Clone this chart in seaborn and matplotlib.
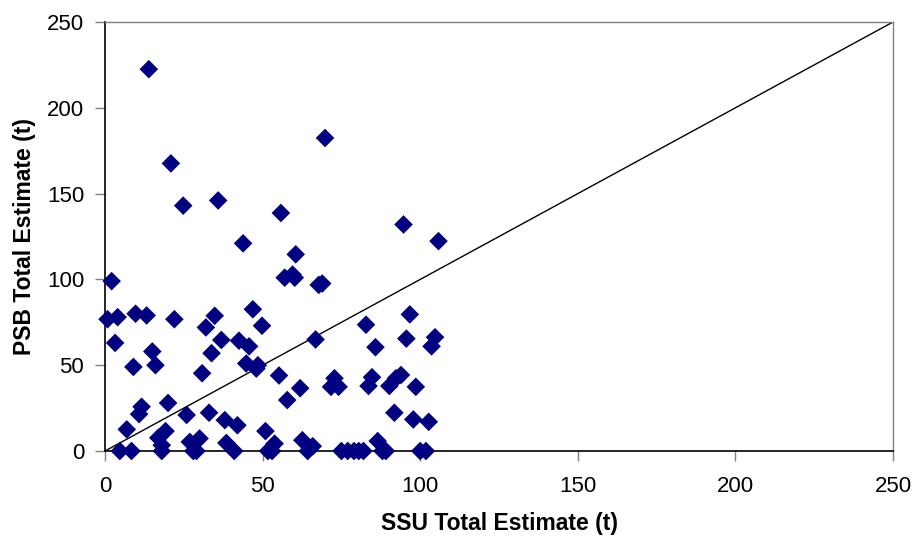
import matplotlib
matplotlib.use("Agg")
import matplotlib.pyplot as plt
import seaborn as sns
import pandas as pd

# SSU vs PSB total estimates
ssu = [13.9, 20.9, 24.8, 35.9, 55.8, 43.8, 60.5, 69.8, 94.7, 105.8,
       57.0, 59.5, 60.2, 67.8, 68.9,
       2.1, 0.8, 4.0, 9.7, 13.2, 22.0, 3.2, 15.0, 16.0, 9.0,
       32.0, 34.8, 36.9, 33.8, 30.8, 42.5, 45.7, 46.9, 49.8, 44.8,
       48.5, 48.0, 55.2, 57.8, 66.8, 82.8, 96.7, 85.8, 95.6, 104.7,
       103.6, 61.9, 72.8, 71.7, 74.1, 84.7, 83.6, 90.2, 92.3, 93.9, 98.6,
       11.6, 10.8, 20.0, 6.9, 25.9, 33.0, 38.0, 42.0, 19.2, 16.9,
       18.0, 50.9, 26.9, 30.0, 38.5, 53.8, 62.6, 65.9, 86.5, 91.8,
       97.8, 102.7,
       4.7, 8.4, 18.0, 28.0, 29.0, 41.0, 51.7, 53.0, 64.3, 75.0,
       77.0, 79.0, 80.5, 82.0, 88.0, 89.1, 100.0, 101.8]
psb = [222.5, 167.6, 143.0, 146.0, 138.7, 121.0, 114.6, 182.4, 132.0, 122.3,
       101.0, 102.8, 101.0, 96.8, 97.6,
       99.0, 76.8, 78.0, 80.0, 79.0, 76.8, 63.0, 58.0, 50.0, 49.0,
       72.0, 78.8, 64.7, 57.0, 45.3, 64.3, 61.0, 82.6, 73.0, 51.0,
       50.0, 48.0, 44.0, 29.7, 65.0, 73.6, 79.6, 60.5, 65.5, 66.3,
       61.0, 36.6, 42.4, 37.4, 37.4, 43.0, 37.9, 37.9, 42.4, 44.3, 37.4,
       25.8, 21.5, 28.0, 12.6, 21.0, 22.3, 18.0, 15.0, 11.6, 7.7,
       3.4, 11.6, 5.3, 7.3, 4.7, 4.3, 6.3, 2.8, 5.8, 22.3,
       18.4, 17.0,
       0, 0, 0, 0, 0, 0, 0, 0, 0, 0,
       0, 0, 0, 0, 0, 0, 0, 0]

ticks = [0, 50, 100, 150, 200, 250]
diag = [0, 250]  # 1:1 line

df = pd.DataFrame({"SSU": ssu, "PSB": psb})

sns.set_style("white")
plt.rcParams["font.family"] = ["Liberation Sans", "DejaVu Sans"]
plt.rcParams["text.color"] = "black"
plt.rcParams["axes.labelcolor"] = "black"
plt.rcParams["xtick.labelcolor"] = "black"
plt.rcParams["ytick.labelcolor"] = "black"

fig = plt.figure(figsize=(9.18, 5.43), dpi=100)
ax = fig.add_axes([0.1144, 0.1694, 0.8584, 0.7901])

ax.plot(diag, diag, color="black", lw=1, zorder=1)
sns.scatterplot(data=df, x="SSU", y="PSB", marker="D", s=90,
                color="#000080", edgecolor="none", ax=ax, zorder=3,
                clip_on=False)

ax.set_xlim(0, 250)
ax.set_ylim(0, 250)
ax.set_xticks(ticks)
ax.set_yticks(ticks)
ax.tick_params(axis="both", labelsize=16, direction="out", length=7,
               width=1, color="#808080", labelcolor="black",
               bottom=True, left=True)
ax.tick_params(axis="y", pad=8)
ax.tick_params(axis="x", pad=11)

for side in ["top", "right"]:
    ax.spines[side].set_color("#808080")
    ax.spines[side].set_linewidth(1)
for side in ["left", "bottom"]:
    ax.spines[side].set_color("black")
    ax.spines[side].set_linewidth(1.2)

ax.set_xlabel("SSU Total Estimate (t)", fontsize=16.5, fontweight="bold", color="black")
ax.set_ylabel("PSB Total Estimate (t)", fontsize=16.5, fontweight="bold", color="black")
ax.xaxis.set_label_coords(0.5, -0.143)
ax.yaxis.set_label_coords(-0.088, 0.5)

fig.savefig("out.png", dpi=100)
